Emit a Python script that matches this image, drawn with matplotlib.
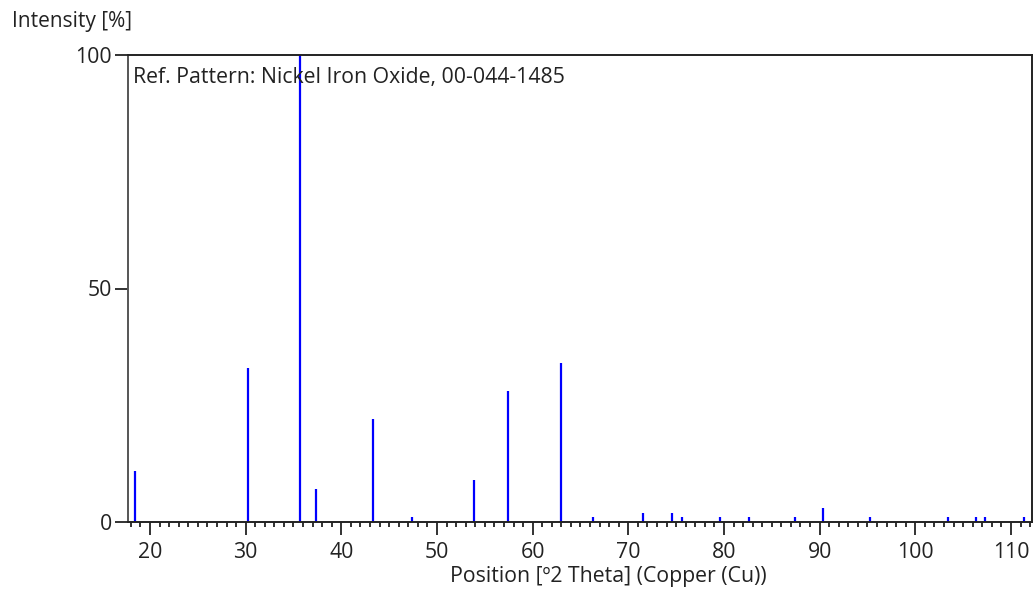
import matplotlib
matplotlib.use("Agg")
import matplotlib.pyplot as plt
from matplotlib.ticker import MultipleLocator

# reference pattern Nickel Iron Oxide, 00-044-1485
position = [18.41, 30.29, 35.69, 37.32, 43.36, 47.44, 53.82, 57.38, 63.01,
            66.3, 71.5, 74.6, 75.6, 79.6, 82.6, 87.4, 90.3, 95.3,
            103.4, 106.3, 107.3, 111.4]
intensity = [11, 33, 100, 7, 22, 1, 9, 28, 34,
             1, 2, 2, 1, 1, 1, 1, 3, 1,
             1, 1, 1, 1]
xticks = [20, 30, 40, 50, 60, 70, 80, 90, 100, 110]
yticks = [0, 50, 100]

plt.rcParams['font.family'] = ['Open Sans', 'DejaVu Sans']
txt = '#222222'
fs = 15.3

fig = plt.figure(figsize=(10.36, 5.94), dpi=100)
ax = fig.add_axes([128/1036, 1 - 522/594, (1032 - 128)/1036, (522 - 55)/594])

ax.vlines(position, 0, intensity, color='#0000ff', lw=1.6)

ax.set_xlim(17.7, 112.2)
ax.set_ylim(0, 100)
ax.set_xticks(xticks)
ax.set_yticks(yticks)
ax.xaxis.set_minor_locator(MultipleLocator(1))
ax.tick_params(axis='both', which='major', direction='out', length=9.5, width=1.3,
               labelsize=fs, colors='#222222', labelcolor=txt, pad=2)
ax.tick_params(axis='x', which='major', pad=5)
ax.tick_params(axis='x', which='minor', direction='out', length=3.5, width=1.3, colors='#222222')
for s in ax.spines.values():
    s.set_linewidth(1.4)
    s.set_color('#222222')
ax.spines['left'].set_color('#555555')

ax.text(0.005, 0.975, 'Ref. Pattern: Nickel Iron Oxide, 00-044-1485', transform=ax.transAxes,
        ha='left', va='top', fontsize=fs, color=txt)
ax.set_xlabel('Position [\u00ba2 Theta] (Copper (Cu))', fontsize=fs, color=txt)
ax.xaxis.set_label_coords(0.531, -0.095)
fig.text(12/1036, 1 - 22/594, 'Intensity [%]', ha='left', va='center', fontsize=fs - 0.3, color=txt)

fig.savefig('out.png', dpi=100)
